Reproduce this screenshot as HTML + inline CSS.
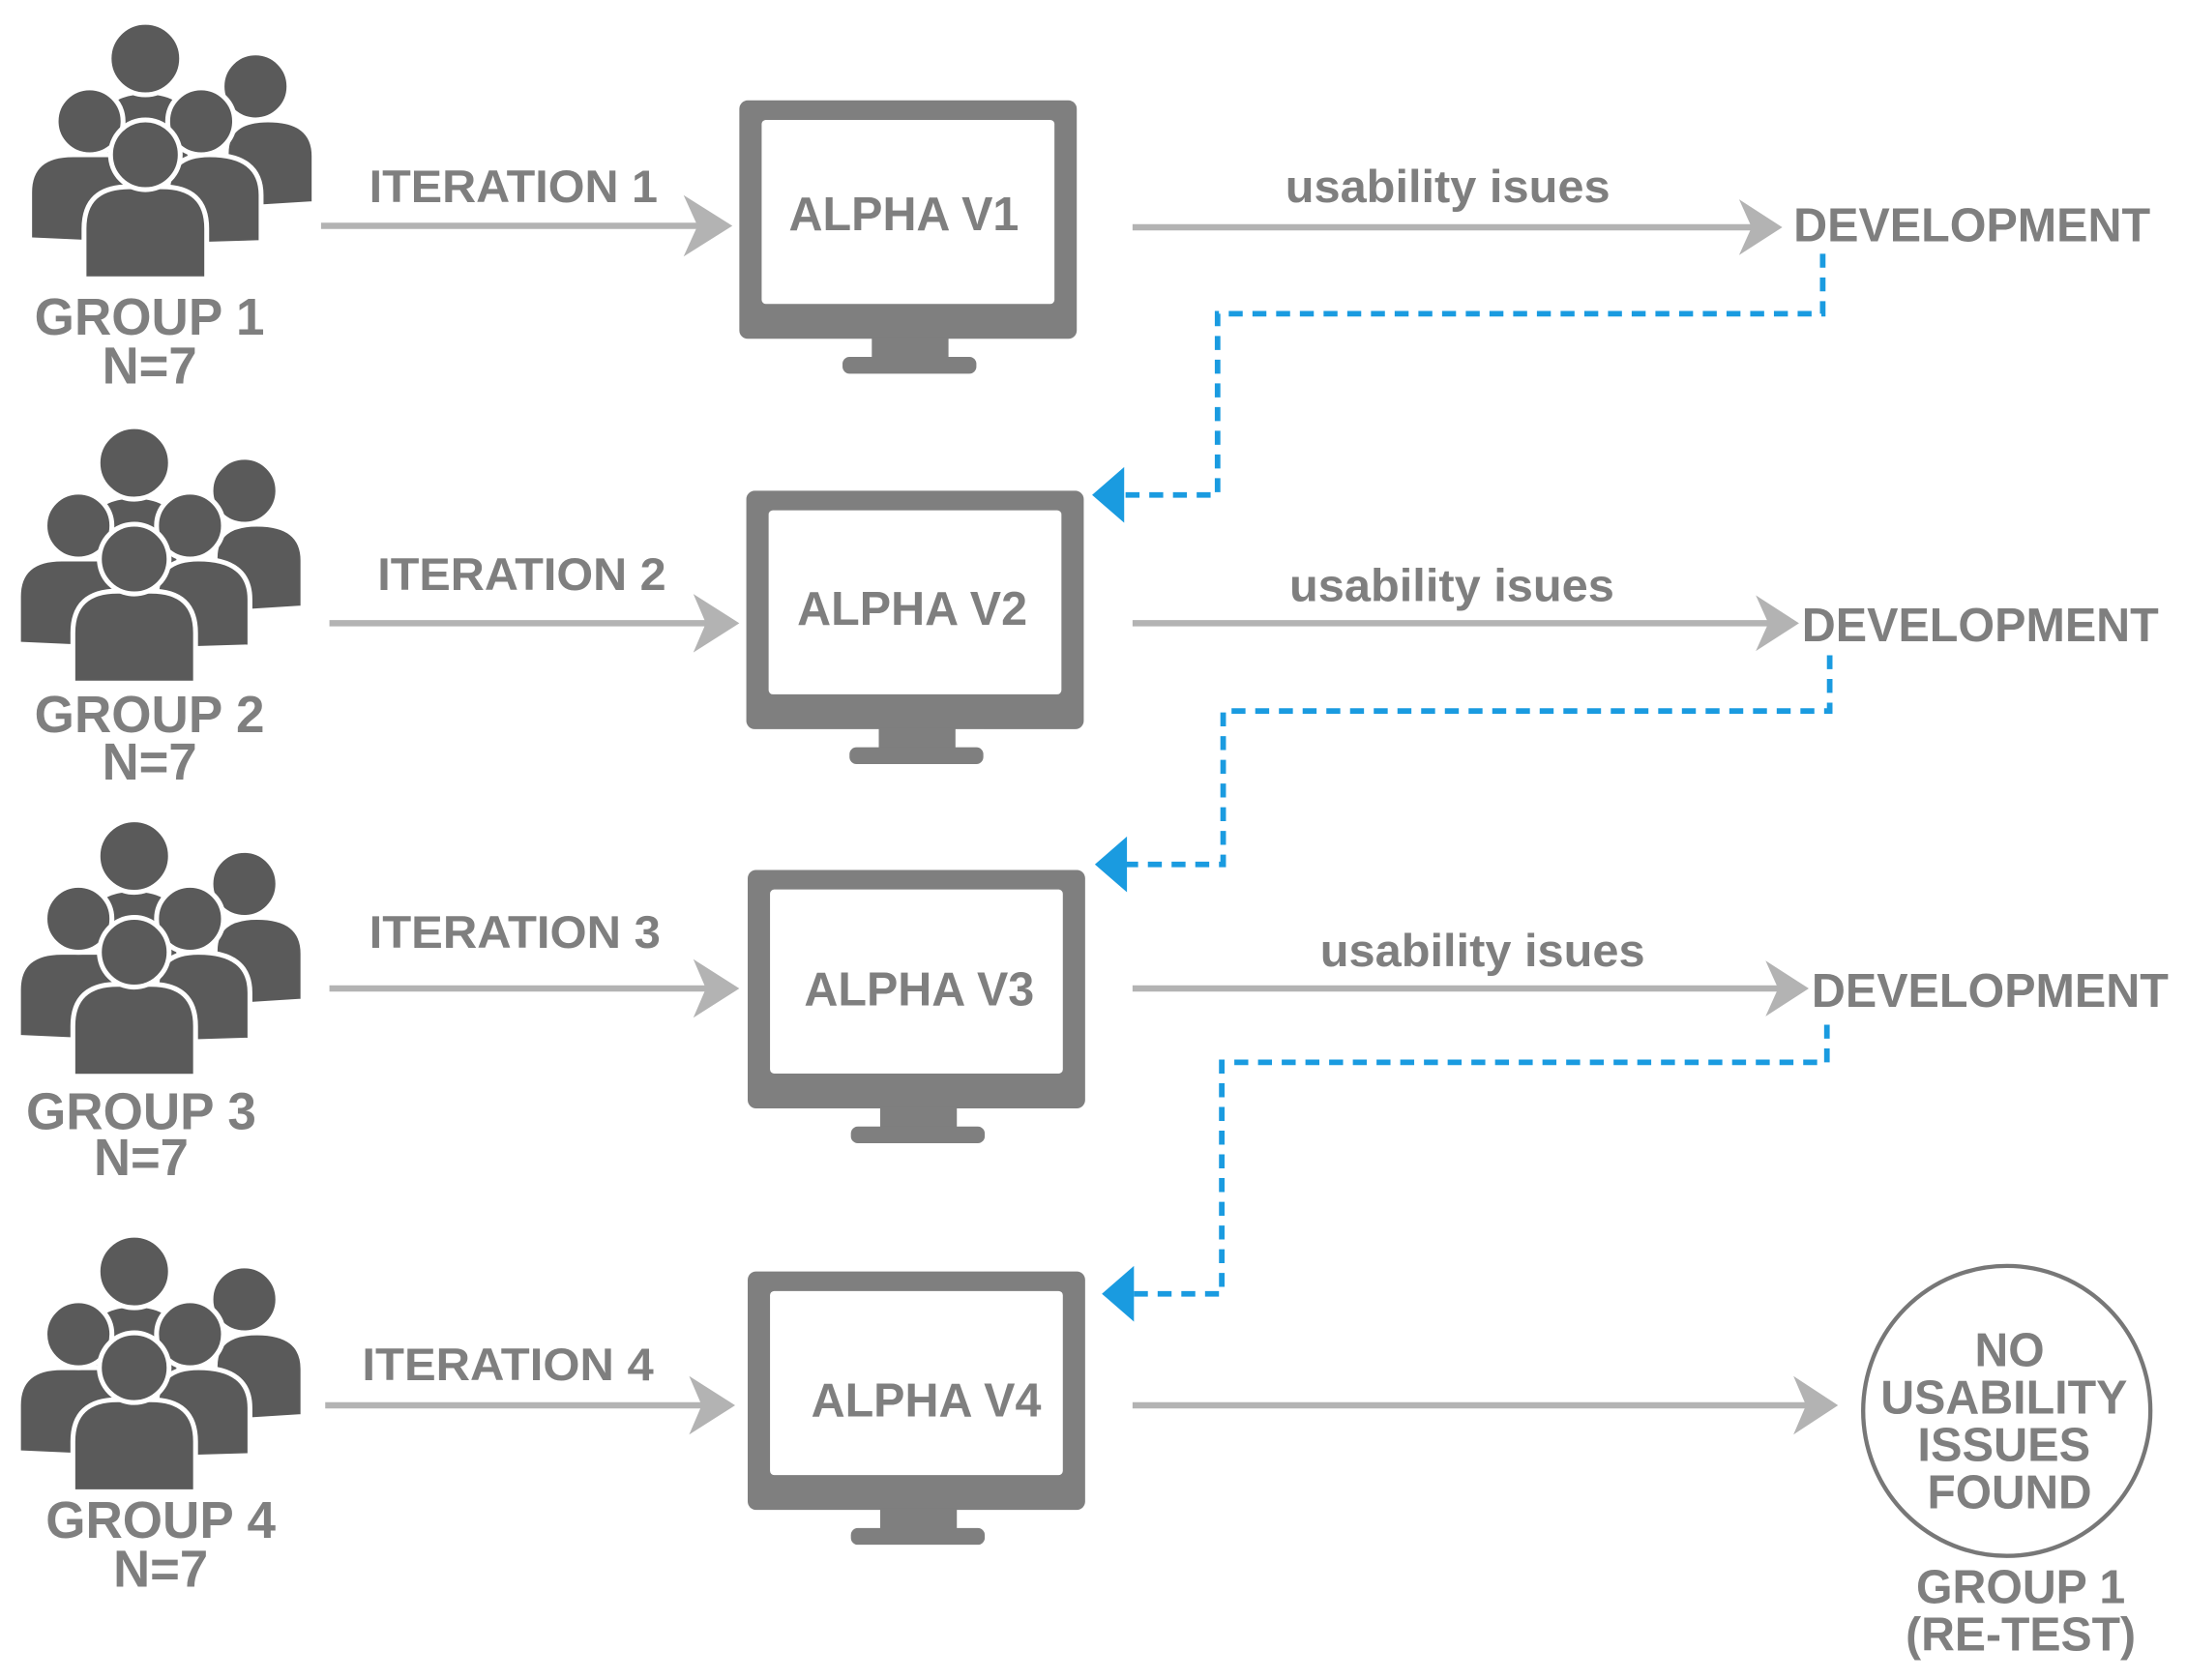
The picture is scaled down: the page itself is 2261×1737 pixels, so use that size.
<!DOCTYPE html>
<html><head><meta charset="utf-8"><style>
html,body{margin:0;padding:0;background:#fff;}
svg{display:block;}
text{font-family:"Liberation Sans",Arial,sans-serif;font-weight:bold;fill:#7f7f7f;}
</style></head><body>
<svg width="2261" height="1737" viewBox="0 0 1568 1205" xmlns="http://www.w3.org/2000/svg">
<defs>
<g id="ppl" fill="#5a5a5a" stroke="#fff" stroke-width="3.5">
 <path d="M72,130 L72,92 Q72,66 104,66 Q136,66 136,92 L136,130 Z"/>
 <circle cx="104" cy="42" r="26"/>
 <path d="M162,150 L162,110 Q162,86 192,86 Q225,86 225,112 L225,146 Z"/>
 <circle cx="183" cy="62" r="24"/>
 <path d="M21,172 L21,138 Q21,111 52,111 L88,111 Q110,111 110,138 L110,176 Z"/>
 <circle cx="64" cy="87" r="24"/>
 <path d="M120,176 L120,138 Q120,111 150,111 Q187,111 187,140 L187,174 Z"/>
 <circle cx="144" cy="87" r="24"/>
 <path d="M60,200 L60,164 Q60,134 92,134 L116,134 Q148,134 148,164 L148,200 Z"/>
 <circle cx="104" cy="111" r="25"/>
</g>
<g id="mon">
 <rect x="0" y="0" width="242" height="171" rx="6" fill="#7f7f7f"/>
 <rect x="16" y="14" width="210" height="132" rx="3" fill="#fff"/>
 <rect x="95" y="170" width="55" height="16" fill="#7f7f7f"/>
 <rect x="74" y="184" width="96" height="12" rx="5" fill="#7f7f7f"/>
</g>
</defs>

<use href="#ppl" x="0" y="0"/>
<use href="#ppl" x="-8" y="290"/>
<use href="#ppl" x="-8" y="572"/>
<use href="#ppl" x="-8" y="870"/>
<g font-size="37" text-anchor="middle">
<text x="107" y="240" textLength="165" lengthAdjust="spacingAndGlyphs">GROUP 1</text><text x="107" y="275" textLength="68" lengthAdjust="spacingAndGlyphs">N=7</text>
<text x="107" y="525" textLength="165" lengthAdjust="spacingAndGlyphs">GROUP 2</text><text x="107" y="559" textLength="68" lengthAdjust="spacingAndGlyphs">N=7</text>
<text x="101" y="810" textLength="165" lengthAdjust="spacingAndGlyphs">GROUP 3</text><text x="101" y="843" textLength="68" lengthAdjust="spacingAndGlyphs">N=7</text>
<text x="115" y="1103" textLength="165" lengthAdjust="spacingAndGlyphs">GROUP 4</text><text x="115" y="1138" textLength="68" lengthAdjust="spacingAndGlyphs">N=7</text>
</g>

<use href="#mon" x="530" y="72"/>
<use href="#mon" x="535" y="352"/>
<use href="#mon" x="536" y="624"/>
<use href="#mon" x="536" y="912"/>
<g font-size="34" text-anchor="middle">
<text x="648" y="165" textLength="165" lengthAdjust="spacingAndGlyphs">ALPHA V1</text>
<text x="654" y="448" textLength="165" lengthAdjust="spacingAndGlyphs">ALPHA V2</text>
<text x="659" y="721" textLength="165" lengthAdjust="spacingAndGlyphs">ALPHA V3</text>
<text x="664" y="1016" textLength="165" lengthAdjust="spacingAndGlyphs">ALPHA V4</text>
</g>

<g stroke="#b3b3b3" stroke-width="4.5" fill="none">
<line x1="230" y1="162" x2="505" y2="162"/>
<line x1="236" y1="447" x2="510" y2="447"/>
<line x1="236" y1="709" x2="510" y2="709"/>
<line x1="233" y1="1008" x2="507" y2="1008"/>
<line x1="812" y1="163" x2="1260" y2="163"/>
<line x1="812" y1="447" x2="1272" y2="447"/>
<line x1="812" y1="709" x2="1279" y2="709"/>
<line x1="812" y1="1008" x2="1300" y2="1008"/>
</g>
<g fill="#b3b3b3">
<path d="M525,162 L490,140 L500,162 L490,184 Z"/>
<path d="M530,447 L497,426 L506,447 L497,468 Z"/>
<path d="M530,709 L497,688 L506,709 L497,730 Z"/>
<path d="M527,1008 L494,987 L503,1008 L494,1029 Z"/>
<path d="M1278,163 L1247,143 L1256,163 L1247,183 Z"/>
<path d="M1290,447 L1259,427 L1268,447 L1259,467 Z"/>
<path d="M1297,709 L1266,689 L1275,709 L1266,729 Z"/>
<path d="M1318,1008 L1286,987 L1295,1008 L1286,1029 Z"/>
</g>
<g font-size="33" text-anchor="middle">
<text x="368" y="145" textLength="207" lengthAdjust="spacingAndGlyphs">ITERATION 1</text>
<text x="374" y="423" textLength="207" lengthAdjust="spacingAndGlyphs">ITERATION 2</text>
<text x="369" y="680" textLength="209" lengthAdjust="spacingAndGlyphs">ITERATION 3</text>
<text x="364" y="990" textLength="209" lengthAdjust="spacingAndGlyphs">ITERATION 4</text>
</g>
<g font-size="33" text-anchor="middle">
<text x="1038" y="145" textLength="233" lengthAdjust="spacingAndGlyphs">usability isues</text>
<text x="1041" y="431" textLength="233" lengthAdjust="spacingAndGlyphs">usability isues</text>
<text x="1063" y="693" textLength="233" lengthAdjust="spacingAndGlyphs">usability isues</text>
</g>
<g font-size="34">
<text x="1286" y="173" textLength="256" lengthAdjust="spacingAndGlyphs">DEVELOPMENT</text>
<text x="1292" y="460" textLength="256" lengthAdjust="spacingAndGlyphs">DEVELOPMENT</text>
<text x="1299" y="722" textLength="256" lengthAdjust="spacingAndGlyphs">DEVELOPMENT</text>
</g>

<g stroke="#1a9be0" stroke-width="4" fill="none" stroke-dasharray="10,7">
<polyline points="1307,182 1307,225 873,225 873,355 805,355"/>
<polyline points="1312,470 1312,510 877,510 877,620 807,620"/>
<polyline points="1310,735 1310,762 876,762 876,928 812,928"/>
</g>
<g fill="#1a9be0">
<path d="M783,355 L806,335 L806,375 Z"/>
<path d="M785,620 L808,600 L808,640 Z"/>
<path d="M790,928 L813,908 L813,948 Z"/>
</g>

<ellipse cx="1439" cy="1012" rx="103" ry="104" fill="none" stroke="#777" stroke-width="3"/>
<g font-size="34" text-anchor="middle">
<text x="1441" y="980" textLength="50" lengthAdjust="spacingAndGlyphs">NO</text>
<text x="1437" y="1014" textLength="177" lengthAdjust="spacingAndGlyphs">USABILITY</text>
<text x="1437" y="1048" textLength="124" lengthAdjust="spacingAndGlyphs">ISSUES</text>
<text x="1441" y="1082" textLength="118" lengthAdjust="spacingAndGlyphs">FOUND</text>
<text x="1449" y="1150" textLength="150" lengthAdjust="spacingAndGlyphs">GROUP 1</text>
<text x="1449" y="1184" textLength="165" lengthAdjust="spacingAndGlyphs">(RE-TEST)</text>
</g>
</svg>
</body></html>
